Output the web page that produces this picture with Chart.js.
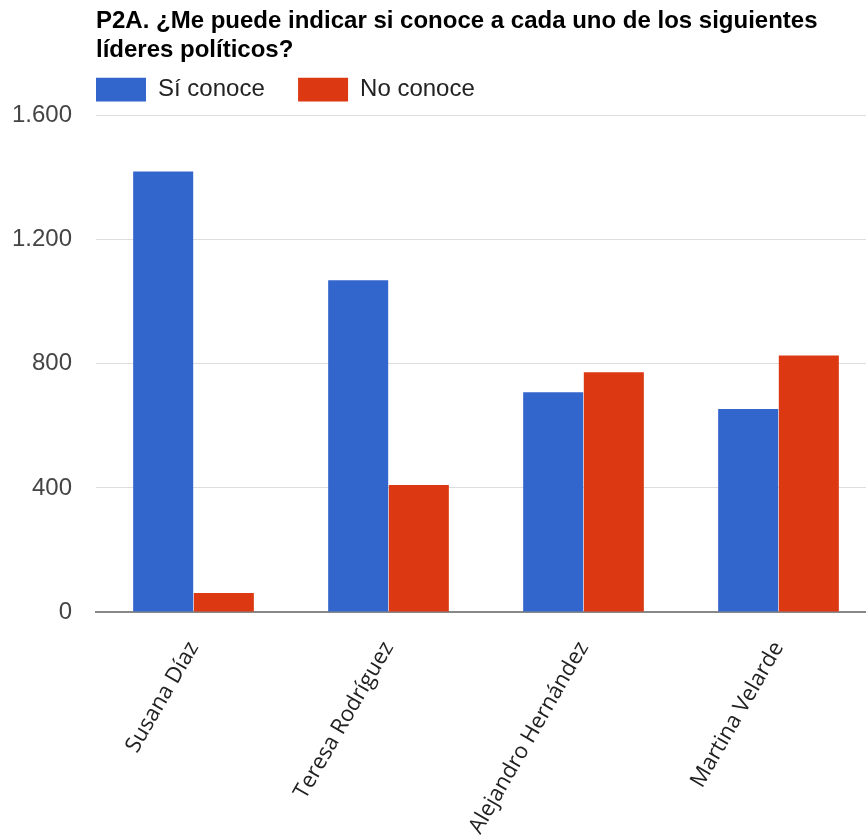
<!DOCTYPE html>
<html>
<head>
<meta charset="utf-8">
<script src="https://cdn.jsdelivr.net/npm/chart.js@4"></script>
<style>
    html, body { margin: 0; padding: 0; background: #fff; overflow: hidden; }
    #wrap { width: 876px; height: 839px; }
</style>
</head>
<body>
<div id="wrap"><canvas id="chart" width="876" height="839"></canvas></div>
<script>
// Chart data
const leaders = ["Susana Díaz", "Teresa Rodríguez", "Alejandro Hernández", "Martina Velarde"];
const siConoce = [1420, 1069, 708, 654];
const noConoce = [61, 409, 773, 827];
const yTicks = [0, 400, 800, 1200, 1600];

const titleLines = ["P2A. ¿Me puede indicar si conoce a cada uno de los siguientes", "líderes políticos?"];

// thousands separator with a dot (1.600)
function formatNum(v) {
    return String(v).replace(/\B(?=(\d{3})+(?!\d))/g, ".");
}

// a little more room under the legend than Chart.js gives by default
const legendGap = {
    id: "legendGap",
    afterInit(chart) {
        const lg = chart.legend;
        if (!lg) return;
        const fit = lg.fit.bind(lg);
        lg.fit = function () {
            fit();
            this.height += 4;
        };
    }
};

new Chart(document.getElementById("chart"), {
    type: "bar",
    data: {
        labels: leaders,
        datasets: [{
            label: "Sí conoce",
            data: siConoce,
            backgroundColor: "#3366cc",
            borderWidth: 0,
            categoryPercentage: 0.622,
            barPercentage: 0.99
        }, {
            label: "No conoce",
            data: noConoce,
            backgroundColor: "#dc3912",
            borderWidth: 0,
            categoryPercentage: 0.622,
            barPercentage: 0.99
        }]
    },
    plugins: [legendGap],
    options: {
        responsive: false,
        animation: false,
        layout: { padding: 0 },
        plugins: {
            title: {
                display: true,
                text: titleLines,
                align: "start",
                fullSize: false,
                color: "#000",
                font: { family: "Liberation Sans, Arial, sans-serif", size: 24, weight: "bold", lineHeight: 1.2 },
                padding: { top: 7, bottom: 13 }
            },
            legend: {
                position: "top",
                align: "start",
                fullSize: false,
                labels: {
                    boxWidth: 50,
                    boxHeight: 24,
                    padding: 0,
                    color: "#222",
                    font: { family: "Liberation Sans, Arial, sans-serif", size: 24 },
                    // spacing between items is put in the text, so the first box starts at the axis
                    generateLabels: function (chart) {
                        const items = Chart.defaults.plugins.legend.labels.generateLabels(chart);
                        items.forEach(it => { it.text = it.text + "     "; });
                        return items;
                    }
                }
            },
            tooltip: { enabled: false }
        },
        scales: {
            x: {
                grid: { display: false, drawTicks: false },
                border: { display: true, color: "#888", width: 2 },
                ticks: {
                    color: "#222",
                    font: { family: "Open Sans, sans-serif", size: 22 },
                    minRotation: 60,
                    maxRotation: 60,
                    padding: 25
                },
                afterFit: function (scale) { scale.height = 227; }
            },
            y: {
                min: 0,
                max: 1600,
                afterBuildTicks: function (scale) {
                    scale.ticks = yTicks.map(v => ({ value: v }));
                },
                grid: { color: "#dddddd", drawTicks: false, lineWidth: 1 },
                border: { display: false },
                ticks: {
                    color: "#444",
                    padding: 24,
                    font: { family: "Liberation Sans, Arial, sans-serif", size: 24 },
                    callback: function (v) { return formatNum(v); }
                },
                afterFit: function (scale) { scale.width = 96; }
            }
        }
    }
});
</script>
</body>
</html>
